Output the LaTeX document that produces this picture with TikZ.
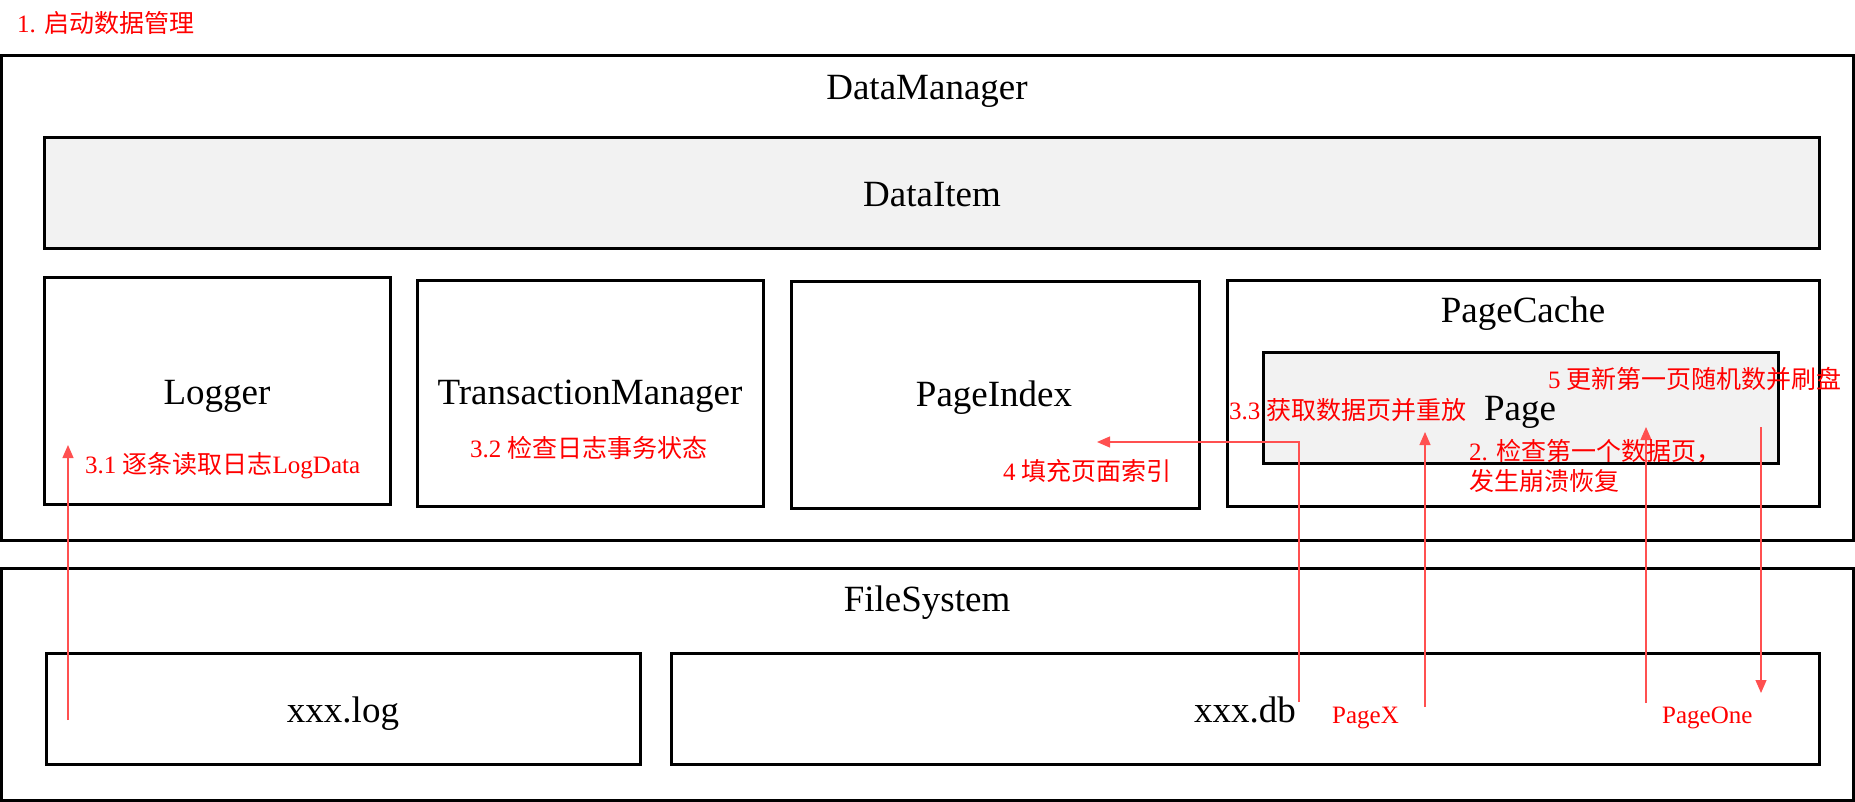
\documentclass[tikz,border=0pt]{standalone}
\usepackage{fontspec}
\usepackage{tikz}
\usetikzlibrary{arrows.meta}
\setmainfont{Liberation Serif}
\newfontfamily\cjk{Noto Sans CJK SC}
\definecolor{boxgray}{HTML}{F2F2F2}
\definecolor{notered}{HTML}{FF0000}
\definecolor{arrred}{HTML}{FF5050}
\tikzset{
  box/.style={draw=black, line width=3pt, inner sep=0pt},
  lbl/.style={anchor=base, inner sep=0pt, font=\fontsize{37}{40}\selectfont},
  note/.style={anchor=base west, inner sep=0pt, text=notered, font=\fontsize{25}{30}\selectfont},
  arr/.style={draw=arrred, line width=1.2pt, -{Triangle[length=13pt,width=11pt]}}
}

\begin{document}
\begin{tikzpicture}[x=1pt,y=-1pt]
\useasboundingbox (0,0) rectangle (1855,802);
\node[box, minimum width=1852pt, minimum height=484pt] (dm) at (927,298) {};
\node[box, fill=boxgray, minimum width=1775pt, minimum height=111pt] (item) at (931.5,193.5) {};
\node[box, minimum width=346pt, minimum height=226pt] (logger) at (217,391) {};
\node[box, minimum width=346pt, minimum height=225pt] (txmgr) at (590,393.5) {};
\node[box, minimum width=408pt, minimum height=226pt] (pidx) at (995,395) {};
\node[box, minimum width=592pt, minimum height=225pt] (pcache) at (1523,393.5) {};
\node[box, fill=boxgray, minimum width=515pt, minimum height=111pt] (page) at (1520.5,407.5) {};
\node[box, minimum width=1852pt, minimum height=232pt] (fs) at (927,684) {};
\node[box, minimum width=594pt, minimum height=111pt] (logf) at (343,708.5) {};
\node[box, minimum width=1148pt, minimum height=111pt] (dbf) at (1245,708.5) {};

\node[lbl] (dmtxt) at (927,100) {DataManager};
\node[lbl] (itemtxt) at (932,207) {DataItem};
\node[lbl] (loggertxt) at (217,404) {Logger};
\node[lbl] (txmgrtxt) at (590,404) {TransactionManager};
\node[lbl] (pidxtxt) at (994,406) {PageIndex};
\node[lbl] (pcachetxt) at (1523,323) {PageCache};
\node[lbl] (pagetxt) at (1520,420) {Page};
\node[lbl] (fstxt) at (927,611) {FileSystem};
\node[lbl] (logftxt) at (343,722) {xxx.log};
\node[lbl] (dbftxt) at (1245,722) {xxx.db};

\coordinate (logsrc) at (68,720);
\coordinate (logdst) at (68,445);
\coordinate (dbsrc) at (1299,702);
\coordinate (pidxdst) at (1097,442);
\coordinate (pxsrc) at (1425,707);
\coordinate (pxdst) at (1425,432);
\coordinate (posrc) at (1646,703);
\coordinate (podst) at (1646,427);
\coordinate (flsrc) at (1761,427);
\coordinate (fldst) at (1761,693);
\draw[arr] (logsrc) -- (logdst);
\draw[arr] (dbsrc) |- (pidxdst);
\draw[arr] (pxsrc) -- (pxdst);
\draw[arr] (posrc) -- (podst);
\draw[arr] (flsrc) -- (fldst);

\node[note] (s1) at (17,33) {1. {\cjk 启动数据管理}};
\node[note] (s31) at (85,473) {3.1 {\cjk 逐条读取日志}LogData};
\node[note] (s32) at (470,457) {3.2 {\cjk 检查日志事务状态}};
\node[note] (s4) at (1003,480) {4 {\cjk 填充页面索引}};
\node[note] (s33) at (1229,419) {3.3 {\cjk 获取数据页并重放}};
\node[note] (s5) at (1548,388) {5 {\cjk 更新第一页随机数并刷盘}};
\node[note, align=left] (s2) at (1469,490) {2. {\cjk 检查第一个数据页，}\\{\cjk 发生崩溃恢复}};
\node[note] (pagex) at (1332,723) {PageX};
\node[note] (pageone) at (1662,723) {PageOne};
\end{tikzpicture}
\end{document}
